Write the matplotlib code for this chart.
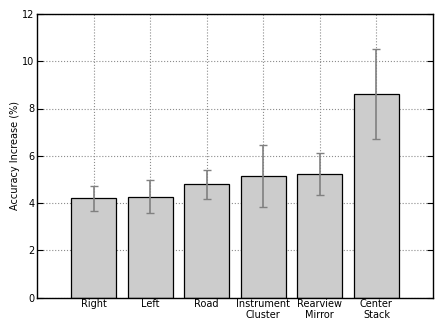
import numpy as np
import matplotlib
matplotlib.use('Agg')
import matplotlib.pyplot as plt

categories = ['Right', 'Left', 'Road', 'Instrument\nCluster', 'Rearview\nMirror', 'Center\nStack']
means = [4.2, 4.27, 4.79, 5.14, 5.22, 8.63]
errors = [0.52, 0.70, 0.62, 1.32, 0.90, 1.90]

plt.rcParams['font.family'] = 'DejaVu Sans'
plt.rcParams['font.size'] = 7

fig = plt.figure(figsize=(4.43, 3.32), dpi=100)
ax = fig.add_axes([37 / 443, 1 - 297.5 / 332, 396 / 443, 283.5 / 332])

x = np.arange(len(categories))
ax.bar(x, means, width=0.8, color='0.8', edgecolor='black', linewidth=0.9,
       yerr=errors, ecolor='0.5', capsize=3, error_kw={'elinewidth': 1.2, 'capthick': 1}, zorder=2)

ax.set_xlim(-1, 6)
ax.set_ylim(0, 12)
ax.set_yticks(range(0, 13, 2))
ax.set_xticks(x)
ax.set_xticklabels(categories, linespacing=1.1)
ax.set_ylabel('Accuracy Increase (%)', fontsize=7, labelpad=1)
ax.grid(True, linestyle=':', color='0.55', linewidth=0.8, zorder=0)
ax.set_axisbelow(True)
ax.tick_params(direction='in', length=4, top=True, right=True, labelsize=7, pad=2)
ax.tick_params(axis='x', length=0, pad=1)
for s in ax.spines.values():
    s.set_linewidth(1.0)

fig.savefig('out.png', dpi=100)
